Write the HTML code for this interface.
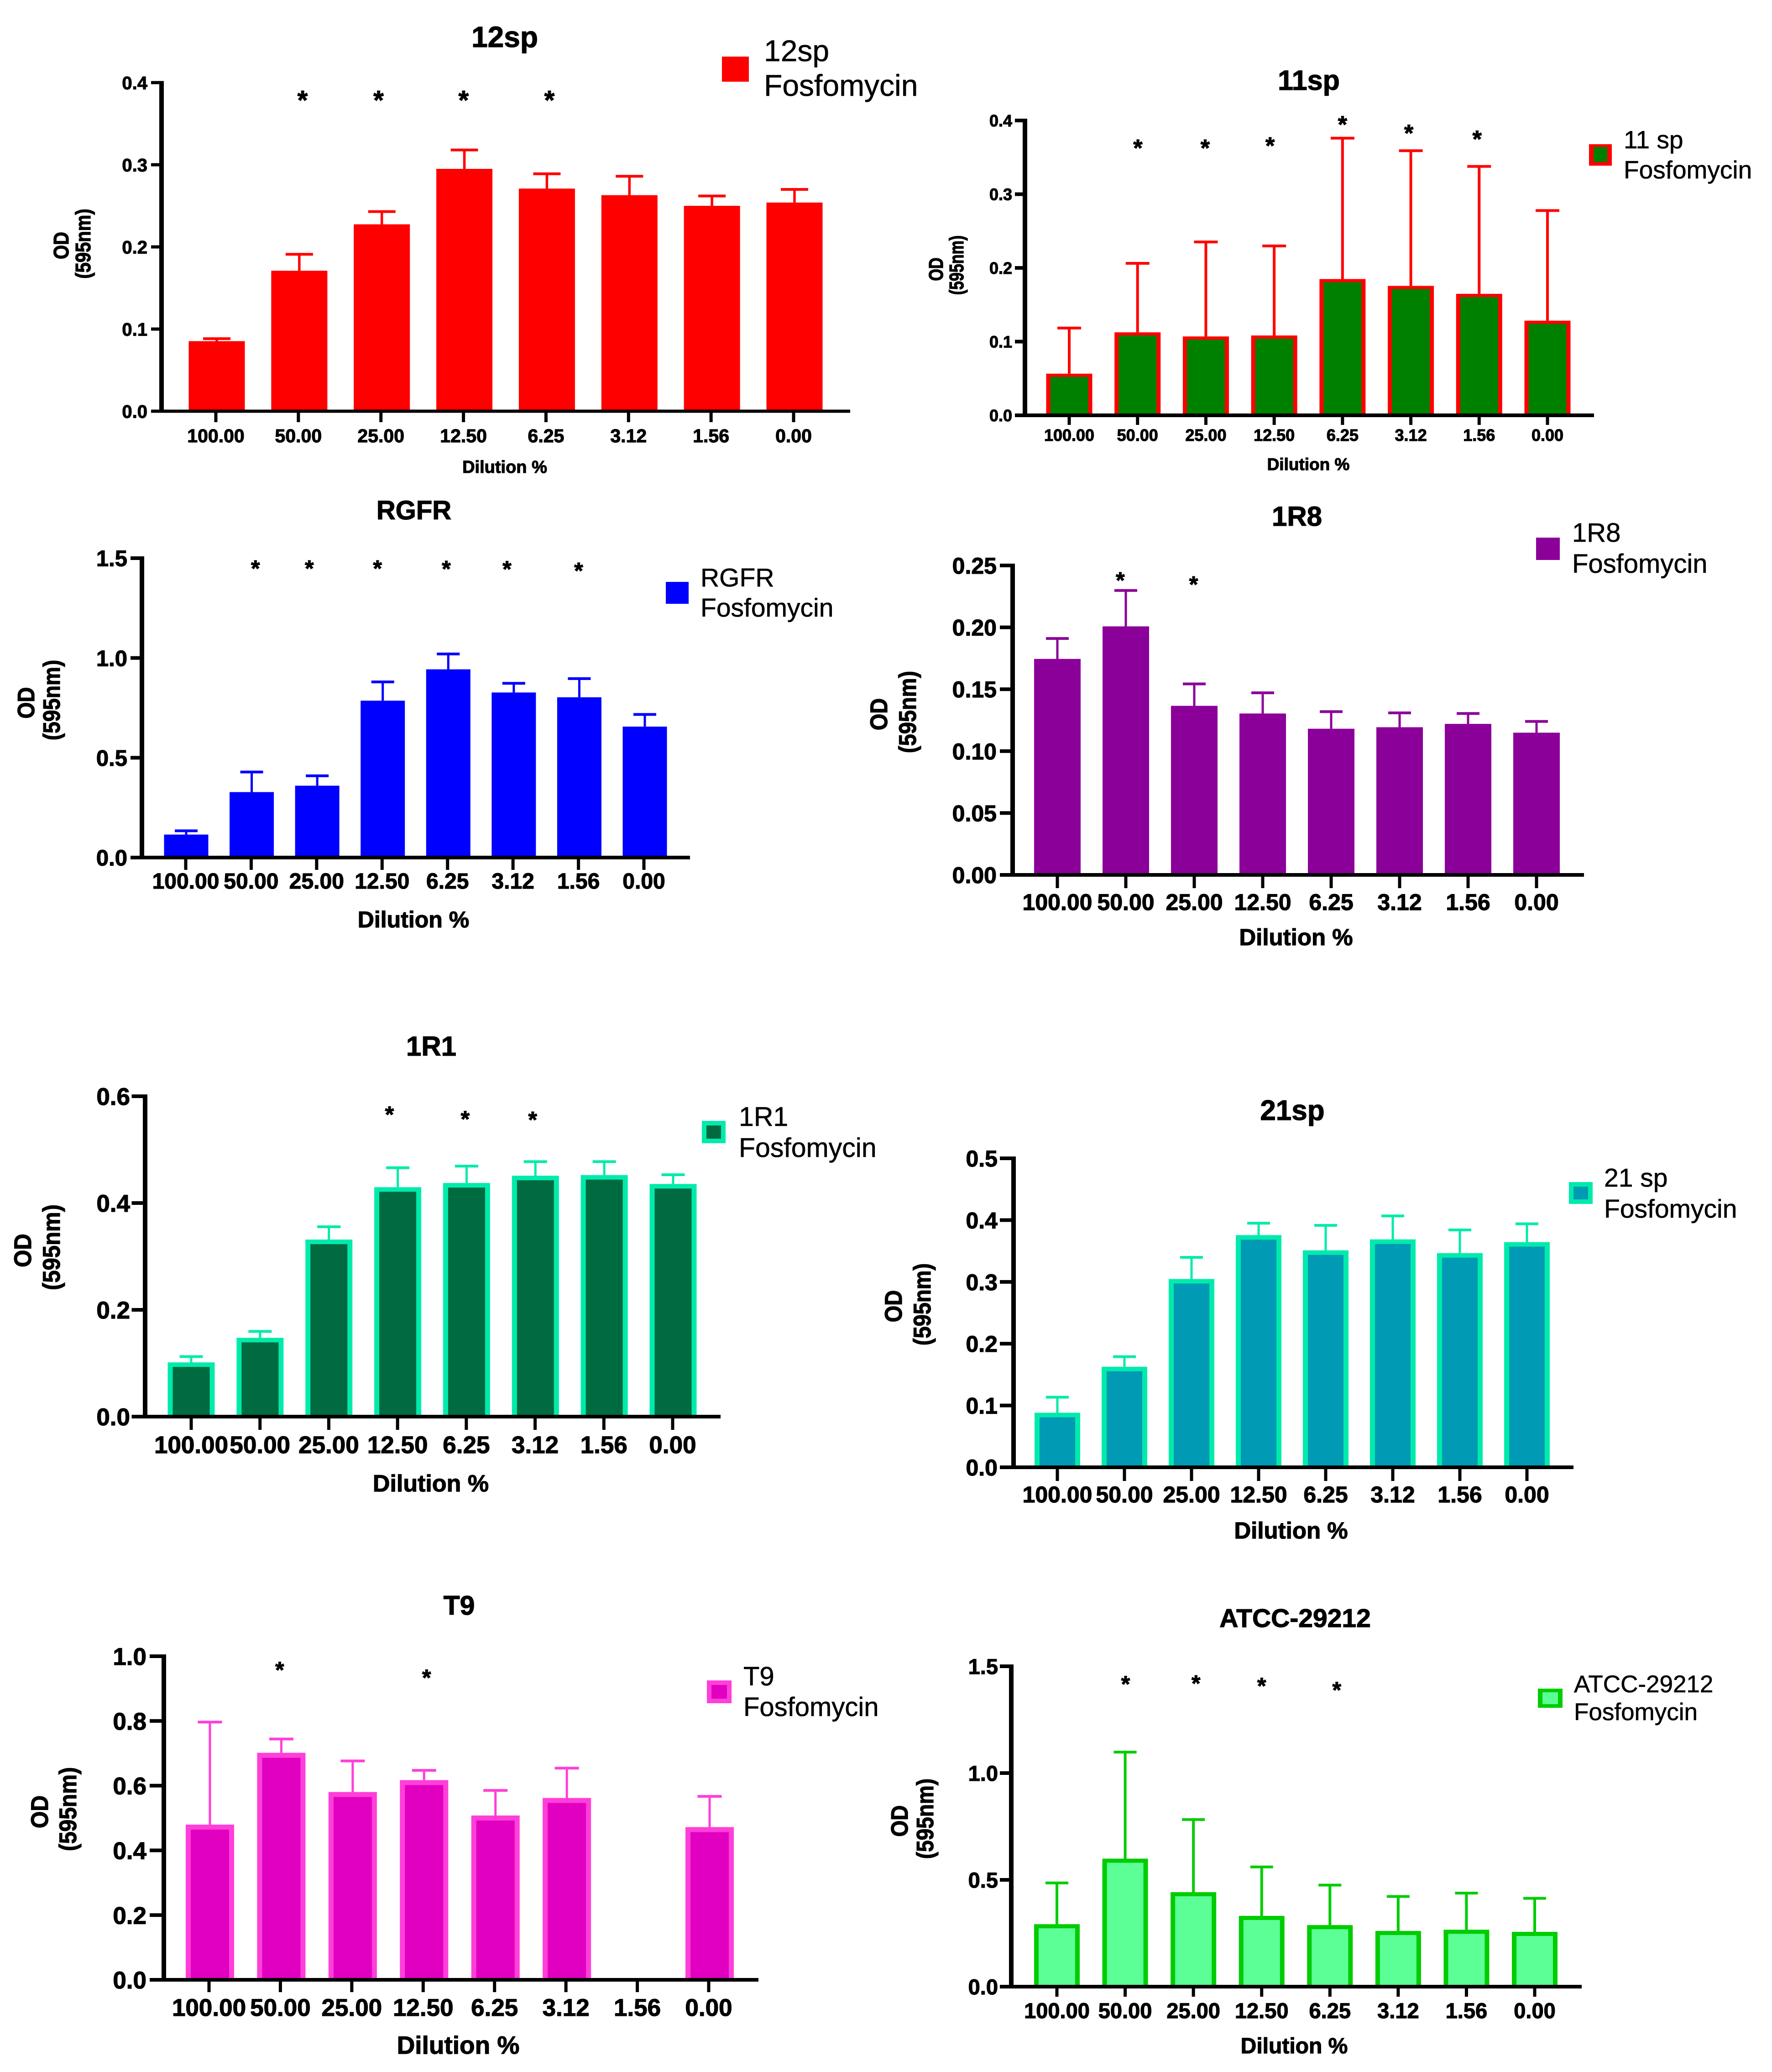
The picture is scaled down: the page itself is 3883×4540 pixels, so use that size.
<!DOCTYPE html>
<html lang="en">
<head>
<meta charset="utf-8">
<title>Fosfomycin dilution OD charts</title>
<style>
html,body{margin:0;padding:0;background:#fff;}
svg{display:block;}
text{font-family:"Liberation Sans",Arial,sans-serif;fill:#000;stroke:#000;stroke-width:0.6px;}
text.b,text[font-weight="bold"]{font-weight:bold;stroke-width:1.2px;}
.m{text-anchor:middle;}
</style>
</head>
<body>
<svg id="figure" xmlns="http://www.w3.org/2000/svg" width="3883" height="4540" viewBox="0 0 3883 4540">
<rect x="0" y="0" width="3883" height="4540" fill="#fff"/>

<g id="chart-12sp">
<text class="b m" x="1106" y="103" font-size="64">12sp</text>
<text class="b m" x="1106" y="1036" font-size="38">Dilution %</text>
<g>
<text class="b m" font-size="40" transform="translate(150,538) rotate(-90) scale(1,1.15)">OD</text>
<text class="b m" font-size="40" transform="translate(198,534) rotate(-90) scale(1,1.15)">(595nm)</text>
</g>
<g>
<rect x="1582" y="124" width="59" height="55" fill="#ff0000"/>
<text x="1674" y="134" font-size="66">12sp</text>
<text x="1674" y="210" font-size="66">Fosfomycin</text>
</g>
</g>

<g id="chart-11sp">
<text class="b m" x="2868" y="197" font-size="61">11sp</text>
<text class="b m" x="2867" y="1030" font-size="37">Dilution %</text>
<g>
<text class="b m" font-size="34" transform="translate(2066,590) rotate(-90) scale(1,1.27)">OD</text>
<text class="b m" font-size="34" transform="translate(2111,581) rotate(-90) scale(1,1.27)">(595nm)</text>
</g>
<g>
<rect x="3482" y="316" width="50" height="47" fill="#ff0000"/>
<rect x="3492" y="322" width="30" height="33" fill="#008000"/>
<text x="3558" y="325" font-size="55">11 sp</text>
<text x="3558" y="391" font-size="55">Fosfomycin</text>
</g>
</g>

<g id="chart-rgfr">
<text class="b m" x="907" y="1138" font-size="58">RGFR</text>
<text class="b m" x="906" y="2032" font-size="50">Dilution %</text>
<g>
<text class="b m" font-size="46" transform="translate(75,1540) rotate(-90) scale(1,1.12)">OD</text>
<text class="b m" font-size="46" transform="translate(131,1534) rotate(-90) scale(1,1.12)">(595nm)</text>
</g>
<g>
<rect x="1459" y="1275" width="50" height="48" fill="#0000ff"/>
<text x="1535" y="1285" font-size="57">RGFR</text>
<text x="1535" y="1351" font-size="57">Fosfomycin</text>
</g>
</g>

<g id="chart-1r8">
<text class="b m" x="2842" y="1152" font-size="60">1R8</text>
<text class="b m" x="2840" y="2071" font-size="51">Dilution %</text>
<g>
<text class="b m" font-size="47" transform="translate(1944,1565) rotate(-90) scale(1,1.12)">OD</text>
<text class="b m" font-size="47" transform="translate(2007,1560) rotate(-90) scale(1,1.12)">(595nm)</text>
</g>
<g>
<rect x="3366" y="1178" width="52" height="49" fill="#8b0099"/>
<text x="3445" y="1187" font-size="58">1R8</text>
<text x="3445" y="1255" font-size="58">Fosfomycin</text>
</g>
</g>

<g id="chart-1r1">
<text class="b m" x="945" y="2313" font-size="60">1R1</text>
<text class="b m" x="944" y="3268" font-size="52">Dilution %</text>
<g>
<text class="b m" font-size="49" transform="translate(68,2740) rotate(-90) scale(1,1.07)">OD</text>
<text class="b m" font-size="49" transform="translate(131,2733) rotate(-90) scale(1,1.07)">(595nm)</text>
</g>
<g>
<rect x="1538" y="2456" width="52" height="49" fill="#00ebab"/>
<rect x="1548" y="2466" width="32" height="29" fill="#006b40"/>
<text x="1619" y="2467" font-size="59">1R1</text>
<text x="1619" y="2535" font-size="59">Fosfomycin</text>
</g>
</g>

<g id="chart-21sp">
<text class="b m" x="2832" y="2454" font-size="62">21sp</text>
<text class="b m" x="2829" y="3371" font-size="51">Dilution %</text>
<g>
<text class="b m" font-size="47" transform="translate(1976,2862) rotate(-90) scale(1,1.12)">OD</text>
<text class="b m" font-size="47" transform="translate(2039,2858) rotate(-90) scale(1,1.12)">(595nm)</text>
</g>
<g>
<rect x="3438" y="2590" width="52" height="48" fill="#00ebab"/>
<rect x="3448" y="2600" width="32" height="28" fill="#009ab5"/>
<text x="3515" y="2600" font-size="57">21 sp</text>
<text x="3515" y="2668" font-size="57">Fosfomycin</text>
</g>
</g>

<g id="chart-t9">
<text class="b m" x="1006" y="3538" font-size="59">T9</text>
<text class="b m" x="1004" y="4500" font-size="55">Dilution %</text>
<g>
<text class="b m" font-size="48" transform="translate(105,3970) rotate(-90) scale(1,1.1)">OD</text>
<text class="b m" font-size="48" transform="translate(167,3964) rotate(-90) scale(1,1.1)">(595nm)</text>
</g>
<g>
<rect x="1549" y="3682" width="54" height="50" fill="#ff3fd9"/>
<rect x="1559" y="3692" width="34" height="30" fill="#e100bf"/>
<text x="1629" y="3693" font-size="58">T9</text>
<text x="1629" y="3760" font-size="58">Fosfomycin</text>
</g>
</g>

<g id="chart-atcc">
<text class="b m" x="2838" y="3565" font-size="57">ATCC-29212</text>
<text class="b m" x="2836" y="4499" font-size="48">Dilution %</text>
<g>
<text class="b m" font-size="46" transform="translate(1989,3990) rotate(-90) scale(1,1.12)">OD</text>
<text class="b m" font-size="46" transform="translate(2045,3985) rotate(-90) scale(1,1.12)">(595nm)</text>
</g>
<g>
<rect x="3370" y="3700" width="54" height="42" fill="#00cc00"/>
<rect x="3380" y="3708" width="34" height="26" fill="#5cff96"/>
<text x="3449" y="3708" font-size="53">ATCC-29212</text>
<text x="3449" y="3769" font-size="53">Fosfomycin</text>
</g>
</g>
</svg>

<script>
var categories = ['100.00', '50.00', '25.00', '12.50', '6.25', '3.12', '1.56', '0.00'];

var values12sp = [0.0853, 0.171, 0.2275, 0.295, 0.271, 0.263, 0.25, 0.254];
var upper12sp = [0.0883, 0.191, 0.243, 0.318, 0.289, 0.286, 0.262, 0.27];
var yTicks12sp = [0, 0.1, 0.2, 0.3, 0.4];
var yLabels12sp = ['0.0', '0.1', '0.2', '0.3', '0.4'];
var starCats12sp = [1.04, 1.96, 2.99, 4.03];
var starLevels12sp = [0.3836, 0.3836, 0.3836, 0.3836];

var values11sp = [0.0565, 0.1126, 0.107, 0.1083, 0.1849, 0.1756, 0.1648, 0.1284];
var upper11sp = [0.1184, 0.2062, 0.2352, 0.2298, 0.376, 0.359, 0.3377, 0.2778];
var yTicks11sp = [0, 0.1, 0.2, 0.3, 0.4];
var yLabels11sp = ['0.0', '0.1', '0.2', '0.3', '0.4'];
var starCats11sp = [1.005, 1.99, 2.94, 4.0, 4.97, 5.97];
var starLevels11sp = [0.3679, 0.3679, 0.371, 0.3996, 0.388, 0.38];

var valuesRgfr = [0.1152, 0.328, 0.36, 0.786, 0.943, 0.827, 0.803, 0.656];
var upperRgfr = [0.134, 0.4286, 0.4096, 0.88, 1.02, 0.873, 0.8965, 0.717];
var yTicksRgfr = [0, 0.5, 1, 1.5];
var yLabelsRgfr = ['0.0', '0.5', '1.0', '1.5'];
var starCatsRgfr = [1.057, 1.88, 2.92, 3.97, 4.896, 5.99];
var starLevelsRgfr = [1.4665, 1.4665, 1.4665, 1.465, 1.463, 1.455];

var values1r8 = [0.1745, 0.2008, 0.1366, 0.1304, 0.1181, 0.1193, 0.122, 0.1149];
var upper1r8 = [0.191, 0.2298, 0.1543, 0.1471, 0.1319, 0.1309, 0.1304, 0.124];
var yTicks1r8 = [0, 0.05, 0.1, 0.15, 0.2, 0.25];
var yLabels1r8 = ['0.00', '0.05', '0.10', '0.15', '0.20', '0.25'];
var starCats1r8 = [0.919, 1.99];
var starLevels1r8 = [0.2409, 0.2377];

var values1r1 = [0.1016, 0.1476, 0.3316, 0.4297, 0.4375, 0.4512, 0.4524, 0.4357];
var upper1r1 = [0.1124, 0.1596, 0.3556, 0.4661, 0.4691, 0.4775, 0.4775, 0.453];
var yTicks1r1 = [0, 0.2, 0.4, 0.6];
var yLabels1r1 = ['0.0', '0.2', '0.4', '0.6'];
var starCats1r1 = [2.88, 3.98, 4.96];
var starLevels1r1 = [0.5725, 0.5641, 0.563];

var values21sp = [0.0883, 0.1627, 0.3047, 0.3757, 0.3511, 0.3688, 0.3466, 0.3644];
var upper21sp = [0.1134, 0.179, 0.3397, 0.395, 0.3915, 0.4068, 0.3841, 0.394];
var yTicks21sp = [0, 0.1, 0.2, 0.3, 0.4, 0.5];
var yLabels21sp = ['0.0', '0.1', '0.2', '0.3', '0.4', '0.5'];
var starCats21sp = [];
var starLevels21sp = [];

var valuesT9 = [0.4797, 0.7016, 0.5804, 0.6172, 0.5078, 0.562, null, 0.4719];
var upperT9 = [0.7965, 0.7442, 0.6764, 0.6473, 0.5853, 0.6541, null, 0.5669];
var yTicksT9 = [0, 0.2, 0.4, 0.6, 0.8, 1];
var yLabelsT9 = ['0.0', '0.2', '0.4', '0.6', '0.8', '1.0'];
var starCatsT9 = [0.977, 3.035];
var starLevelsT9 = [0.969, 0.9448];

var valuesAtcc = [0.2925, 0.5994, 0.4424, 0.3314, 0.2882, 0.2608, 0.2666, 0.2565];
var upperAtcc = [0.4856, 1.098, 0.7824, 0.5605, 0.4755, 0.4222, 0.438, 0.4135];
var yTicksAtcc = [0, 0.5, 1, 1.5];
var yLabelsAtcc = ['0.0', '0.5', '1.0', '1.5'];
var starCatsAtcc = [1.006, 2.037, 3.0, 4.1];
var starLevelsAtcc = [1.4337, 1.4366, 1.425, 1.406];

var NS = 'http://www.w3.org/2000/svg';

function mk(parent, tag, props) {
  var node = document.createElementNS(NS, tag);
  for (var k in props) { node.setAttribute(k, props[k]); }
  parent.appendChild(node);
  return node;
}

function drawChart(gid, c, values, upper, yTicks, yLabels, starCats, starLevels) {
  var g = document.getElementById(gid);
  var yMax = yTicks[yTicks.length - 1];
  function xScale(i) { return c.first + i * (c.last - c.first) / (categories.length - 1); }
  function yScale(v) { return c.y0 - v / yMax * (c.y0 - c.yTop); }
  var el, i;

  for (i = 0; i < categories.length; i++) {
    if (values[i] === null) { continue; }
    var cx = xScale(i);
    var top = yScale(values[i]);
    var capY = yScale(upper[i]);

    el = mk(g, 'rect', {x: cx - c.errW / 2, y: capY, width: c.errW, height: top - capY, fill: c.err});
    
    

    el = mk(g, 'rect', {x: cx - c.capW / 2, y: capY - c.capH / 2, width: c.capW, height: c.capH, fill: c.err});
    
    

    el = mk(g, 'rect', {x: cx - c.barW / 2, y: top, width: c.barW, height: c.y0 - top, fill: c.stroke});
    
    

    if (c.sx > 0) {
      el = mk(g, 'rect', {x: cx - c.barW / 2 + c.sx, y: top + c.sy, width: c.barW - 2 * c.sx, height: c.y0 - top - c.sy, fill: c.fill});
      
      
    }
  }

  el = mk(g, 'rect', {x: c.axisX - c.lwY / 2, y: c.yTop - c.lwX / 2, width: c.lwY, height: c.y0 - c.yTop + c.lwX, fill: '#000'});
  
  

  el = mk(g, 'rect', {x: c.left, y: c.y0 - c.lwX / 2, width: c.right - c.left, height: c.lwX, fill: '#000'});
  
  

  for (i = 0; i < yTicks.length; i++) {
    var ty = yScale(yTicks[i]);
    el = mk(g, 'rect', {x: c.left, y: ty - c.lwX / 2, width: c.axisX - c.left, height: c.lwX, fill: '#000'});
    
    

    el = mk(g, 'text', {x: c.yLabelRight, y: ty + c.yFs * 0.36, 'font-size': c.yFs, 'font-weight': 'bold', 'text-anchor': 'end'});
    el.textContent = yLabels[i];
    
    
  }

  for (i = 0; i < categories.length; i++) {
    var tx = c.tickFirst + i * (c.tickLast - c.tickFirst) / (categories.length - 1);
    el = mk(g, 'rect', {x: tx - c.tickW / 2, y: c.y0, width: c.tickW, height: c.tickL, fill: '#000'});
    
    

    el = mk(g, 'text', {x: tx, y: c.xLabelY, 'font-size': c.xFs, 'font-weight': 'bold', 'text-anchor': 'middle'});
    el.textContent = categories[i];
    
    
  }

  for (i = 0; i < starCats.length; i++) {
    el = mk(g, 'text', {x: xScale(starCats[i]), y: yScale(starLevels[i]) + c.starFs * 0.5, 'font-size': c.starFs, 'font-weight': 'bold', 'text-anchor': 'middle'});
    el.textContent = '*';
    
    
  }
}

drawChart('chart-12sp', {axisX: 354, yTop: 181, y0: 901, left: 331, right: 1863, first: 475, last: 1741, tickFirst: 473, tickLast: 1739, barW: 123, fill: '#ff0000', stroke: '#ff0000', err: '#ff0000', sx: 0, sy: 0, errW: 5.5, capW: 60, capH: 6, lwX: 7, lwY: 10, tickW: 7, tickL: 24, xFs: 41, xLabelY: 969, yFs: 40, yLabelRight: 323, starFs: 58}, values12sp, upper12sp, yTicks12sp, yLabels12sp, starCats12sp, starLevels12sp);

drawChart('chart-11sp', {axisX: 2246, yTop: 264, y0: 910, left: 2224, right: 3493, first: 2343, last: 3391, tickFirst: 2343, tickLast: 3391, barW: 101, fill: '#008000', stroke: '#ff0000', err: '#ff0000', sx: 9, sy: 7, errW: 6, capW: 52, capH: 6, lwX: 8, lwY: 10, tickW: 7, tickL: 21, xFs: 36, xLabelY: 966, yFs: 36, yLabelRight: 2218, starFs: 52}, values11sp, upper11sp, yTicks11sp, yLabels11sp, starCats11sp, starLevels11sp);

drawChart('chart-rgfr', {axisX: 311, yTop: 1223, y0: 1879, left: 286, right: 1512, first: 408, last: 1413, tickFirst: 407, tickLast: 1411, barW: 97, fill: '#0000ff', stroke: '#0000ff', err: '#0000ff', sx: 0, sy: 0, errW: 5, capW: 50, capH: 6, lwX: 8, lwY: 10, tickW: 7, tickL: 27, xFs: 48, xLabelY: 1947, yFs: 49, yLabelRight: 279, starFs: 50}, valuesRgfr, upperRgfr, yTicksRgfr, yLabelsRgfr, starCatsRgfr, starLevelsRgfr);

drawChart('chart-1r8', {axisX: 2219, yTop: 1239, y0: 1917, left: 2191, right: 3471, first: 2317, last: 3367, tickFirst: 2317, tickLast: 3367, barW: 102, fill: '#8b0099', stroke: '#8b0099', err: '#8b0099', sx: 0, sy: 0, errW: 5, capW: 50, capH: 6, lwX: 8, lwY: 10, tickW: 7, tickL: 29, xFs: 50, xLabelY: 1994, yFs: 50, yLabelRight: 2184, starFs: 50}, values1r8, upper1r8, yTicks1r8, yLabels1r8, starCats1r8, starLevels1r8);

drawChart('chart-1r1', {axisX: 318, yTop: 2402, y0: 3104, left: 288.5, right: 1579, first: 419, last: 1475, tickFirst: 419, tickLast: 1474, barW: 103, fill: '#006b40', stroke: '#00ebab', err: '#00ebab', sx: 11, sy: 10, errW: 5, capW: 51, capH: 6, lwX: 8, lwY: 10, tickW: 7, tickL: 29, xFs: 53, xLabelY: 3184, yFs: 53, yLabelRight: 285, starFs: 50}, values1r1, upper1r1, yTicks1r1, yLabels1r1, starCats1r1, starLevels1r1);

drawChart('chart-21sp', {axisX: 2221, yTop: 2538, y0: 3215, left: 2191, right: 3448, first: 2317, last: 3346, tickFirst: 2317, tickLast: 3346, barW: 100, fill: '#009ab5', stroke: '#00ebab', err: '#00ebab', sx: 11, sy: 10, errW: 5, capW: 50, capH: 6, lwX: 8, lwY: 10, tickW: 7, tickL: 30, xFs: 50, xLabelY: 3292, yFs: 50, yLabelRight: 2186, starFs: 50}, values21sp, upper21sp, yTicks21sp, yLabels21sp, starCats21sp, starLevels21sp);

drawChart('chart-t9', {axisX: 359, yTop: 3629, y0: 4338, left: 328, right: 1662, first: 460, last: 1555, tickFirst: 458, tickLast: 1553, barW: 106, fill: '#e100bf', stroke: '#ff3fd9', err: '#ff3fd9', sx: 11, sy: 11, errW: 5, capW: 53, capH: 6, lwX: 8, lwY: 10, tickW: 7, tickL: 27, xFs: 53, xLabelY: 4417, yFs: 53, yLabelRight: 321, starFs: 50}, valuesT9, upperT9, yTicksT9, yLabelsT9, starCatsT9, starLevelsT9);

drawChart('chart-atcc', {axisX: 2216, yTop: 3651, y0: 4353, left: 2191, right: 3466, first: 2316, last: 3363, tickFirst: 2316, tickLast: 3363, barW: 100, fill: '#5cff96', stroke: '#00cc00', err: '#00cc00', sx: 10, sy: 9, errW: 6, capW: 50, capH: 6, lwX: 8, lwY: 10, tickW: 7, tickL: 22, xFs: 47, xLabelY: 4422, yFs: 47, yLabelRight: 2187, starFs: 50}, valuesAtcc, upperAtcc, yTicksAtcc, yLabelsAtcc, starCatsAtcc, starLevelsAtcc);
</script>
</body>
</html>
